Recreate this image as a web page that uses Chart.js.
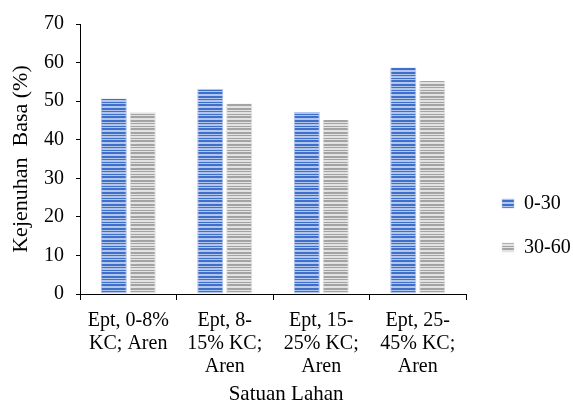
<!DOCTYPE html>
<html>
<head>
<meta charset="utf-8">
<script src="https://cdn.jsdelivr.net/npm/chart.js@4"></script>
<style>
  html, body { margin: 0; padding: 0; background: #fff; }
  #wrap { width: 573px; height: 414px; }
</style>
</head>
<body>
<div id="wrap"><canvas id="barChart" width="573" height="414"></canvas></div>
<script>
// Data
const kategori = [
    ["Ept, 0-8%", "KC; Aren"],
    ["Ept, 8-", "15% KC;", "Aren"],
    ["Ept, 15-", "25% KC;", "Aren"],
    ["Ept, 25-", "45% KC;", "Aren"]
];
const nilai030 = [50.7, 53.2, 47.2, 58.7];
const nilai3060 = [47.1, 49.4, 45.1, 55.2];
const seriLabel = ["0-30", "30-60"];

const FONT = "'Liberation Serif', 'Times New Roman', serif";

// Horizontal stripes pattern like the original fill
function stripePattern(dark, light) {
    const c = document.createElement("canvas");
    c.width = 4;
    c.height = 12;
    const g = c.getContext("2d");
    const rows = [dark, dark, light, dark, light, light, dark, light, dark, dark, light, light];
    rows.forEach((col, i) => {
        g.fillStyle = col;
        g.fillRect(0, i, 4, 1);
    });
    return g.createPattern(c, "repeat");
}

const ctx = document.getElementById("barChart").getContext("2d");
const biru = stripePattern("#3e6fcb", "#b2c6ec");
const abu = stripePattern("#a3a3a3", "#e3e3e3");

new Chart(ctx, {
    type: "bar",
    data: {
        labels: kategori,
        datasets: [{
            label: seriLabel[0],
            data: nilai030,
            backgroundColor: biru,
            borderColor: "#a9bde6",
            borderWidth: { left: 1, right: 1, top: 0, bottom: 0 },
            categoryPercentage: 0.6,
            barPercentage: 0.9
        }, {
            label: seriLabel[1],
            data: nilai3060,
            backgroundColor: abu,
            borderColor: "#dcdcdc",
            borderWidth: { left: 1, right: 1, top: 0, bottom: 0 },
            categoryPercentage: 0.6,
            barPercentage: 0.9
        }]
    },
    options: {
        responsive: false,
        animation: false,
        layout: { padding: { left: 0, right: 0, top: 19, bottom: 0 } },
        plugins: {
            legend: {
                position: "right",
                maxWidth: 95,
                title: { display: true, text: " ", font: { size: 10 }, padding: 3 },
                labels: {
                    font: { family: FONT, size: 20 },
                    color: "#000",
                    boxWidth: 12,
                    boxHeight: 9,
                    padding: 24
                }
            },
            tooltip: { enabled: false }
        },
        scales: {
            x: {
                grid: { drawOnChartArea: false, drawTicks: true, tickLength: 6, color: "#000", offset: true },
                border: { color: "#000", width: 1 },
                ticks: { font: { family: FONT, size: 20, lineHeight: 1.15 }, color: "#000", maxRotation: 0, autoSkip: false, padding: 9 },
                // judul sumbu agak ke kanan seperti aslinya
                title: { display: true, text: "     Satuan Lahan", font: { family: FONT, size: 21 }, color: "#000", padding: { top: 0, bottom: 7 } },
                afterFit: (s) => { s.height = 120; }
            },
            y: {
                min: 0,
                max: 70,
                ticks: { stepSize: 10, font: { family: FONT, size: 20 }, color: "#000", padding: 12 },
                grid: { drawOnChartArea: false, drawTicks: true, tickLength: 4, color: "#000" },
                border: { color: "#000", width: 1 },
                title: { display: true, text: "Kejenuhan  Basa (%)", font: { family: FONT, size: 22 }, color: "#000", padding: { top: 8, bottom: 0 } },
                afterFit: (s) => { s.width = 80; }
            },
            // spacer between plot and legend
            jarak: {
                type: "linear",
                position: "right",
                display: true,
                grid: { display: false },
                border: { display: false },
                ticks: { display: false },
                afterFit: (s) => { s.width = 12; }
            }
        }
    }
});
</script>
</body>
</html>
